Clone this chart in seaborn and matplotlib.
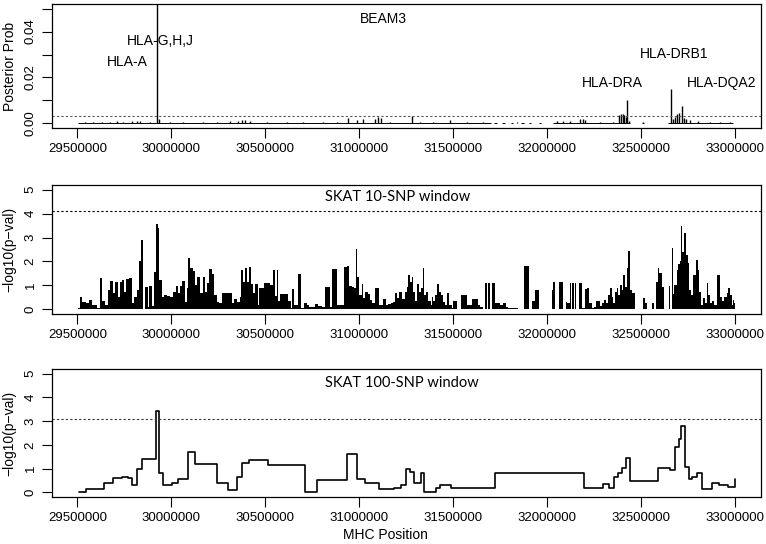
import seaborn as sns
import matplotlib
matplotlib.use('Agg')
import matplotlib.pyplot as plt

# ---- BEAM3 posterior probabilities (position, prob)
beam_pos = [29541000, 29585000, 29630000, 29674000, 29709000, 29745000, 29789000,
            29816000, 29834000, 29887000, 29925000, 29936000, 29993000, 30064000,
            30170000, 30241000, 30312000, 30357000, 30374000, 30392000, 30419000,
            30507000, 30614000, 30702000, 30809000, 30880000, 30942000, 30986000,
            31022000, 31084000, 31101000, 31114000, 31163000, 31278000, 31323000,
            31394000, 31482000, 31571000, 31660000, 31837000, 32050000, 32085000,
            32121000, 32174000, 32188000, 32200000, 32280000, 32351000, 32383000,
            32392000, 32401000, 32410000, 32419000, 32426000, 32436000, 32511000,
            32656000, 32670000, 32681000, 32692000, 32702000, 32715000, 32727000,
            32738000, 32759000, 32803000, 32865000, 32918000, 32972000]
beam_prob = [0.0008, 0.0006, 0.0008, 0.0007, 0.0009, 0.0008, 0.0010,
             0.0010, 0.0012, 0.0007, 0.0900, 0.0021, 0.0006, 0.0006,
             0.0007, 0.0007, 0.0009, 0.0012, 0.0016, 0.0014, 0.0010,
             0.0007, 0.0006, 0.0005, 0.0006, 0.0008, 0.0025, 0.0014,
             0.0018, 0.0021, 0.0028, 0.0022, 0.0008, 0.0031, 0.0008,
             0.0007, 0.0016, 0.0006, 0.0005, 0.0005, 0.0010, 0.0012,
             0.0012, 0.0018, 0.0019, 0.0015, 0.0006, 0.0008, 0.0038,
             0.0042, 0.0040, 0.0036, 0.0027, 0.0100, 0.0012, 0.0008,
             0.0150, 0.0020, 0.0030, 0.0040, 0.0045, 0.0075, 0.0022,
             0.0018, 0.0014, 0.0010, 0.0007, 0.0006, 0.0005]
# stretches of SNPs with near-zero posterior
beam_cover_start = [29505000, 31715000, 31760000, 31805000, 31860000, 31905000,
                    31955000, 32030000, 32505000, 32640000]
beam_cover_end = [31700000, 31730000, 31775000, 31820000, 31875000, 31915000,
                  31965000, 32440000, 32515000, 32990000]
beam_labels = ['BEAM3', 'HLA-G,H,J', 'HLA-A', 'HLA-DRA', 'HLA-DRB1', 'HLA-DQA2']
beam_label_pos = [31126000, 29940000, 29765000, 32344000, 32673000, 32928000]
beam_label_y = [0.0455, 0.0357, 0.0267, 0.0178, 0.0302, 0.0178]
beam_cut = 0.00325

# ---- SKAT 10-SNP window (window start, -log10 p)
skat10_start = [
    29505000, 29514000, 29525000, 29546000, 29560000, 29564000, 29578000, 29603000,
    29619000, 29633000, 29647000, 29661500, 29675700, 29688100, 29702300, 29716500,
    29727100, 29739500, 29750200, 29760800, 29776800, 29790900, 29801600, 29815800,
    29828200, 29838800, 29851200, 29861900, 29874300, 29879600, 29895600, 29908000,
    29918600, 29927500, 29934600, 29948700, 29961200, 29975300, 29993100, 30010800,
    30025000, 30037400, 30046300, 30058700, 30072900, 30081700, 30090600, 30099500,
    30113600, 30126000, 30138500, 30152600, 30166800, 30179200, 30191600, 30202300,
    30214700, 30227100, 30241300, 30255500, 30269700, 30308700, 30321100, 30333500,
    30347700, 30365400, 30370700, 30383100, 30392000, 30400900, 30413300, 30423900,
    30436300, 30445200, 30459400, 30466500, 30494800, 30525000, 30539200, 30551600,
    30560400, 30569300, 30578200, 30619000, 30636700, 30640200, 30654400, 30675700,
    30688100, 30707600, 30720000, 30732400, 30746600, 30764300, 30778500, 30803300,
    30817500, 30842300, 30856500, 30881300, 30918600, 30932800, 30945200, 30959400,
    30971800, 30982400, 30989500, 31000100, 31012500, 31021400, 31030300, 31044500,
    31056900, 31069300, 31083500, 31104700, 31127800, 31140200, 31154400, 31168600,
    31181000, 31189900, 31198700, 31211100, 31225300, 31243000, 31251900, 31260800,
    31269600, 31278500, 31287400, 31296200, 31308600, 31315700, 31326400, 31337000,
    31345900, 31354700, 31367100, 31379600, 31388400, 31393700, 31402600, 31415000,
    31425700, 31436300, 31446900, 31457600, 31464700, 31477100, 31491300, 31500100,
    31521400, 31539100, 31574600, 31597600, 31633100, 31642000, 31659700, 31668600,
    31679200, 31686300, 31696900, 31704000, 31721700, 31748300, 31766100, 31780300,
    31792700, 31845900, 31876000, 31900800, 31916800, 31934500, 31957600, 32023100,
    32032000, 32042700, 32064000, 32081700, 32097000, 32103000, 32120700, 32126000,
    32133100, 32140200, 32147300, 32154400, 32168500, 32186300, 32200500, 32209300,
    32221700, 32235900, 32250100, 32257200, 32280200, 32289100, 32303300, 32313900,
    32324600, 32333400, 32342300, 32351200, 32360000, 32368900, 32377800, 32386600,
    32395500, 32404400, 32413200, 32422100, 32431000, 32439800, 32448700, 32466400,
    32510700, 32519600, 32528500, 32558600, 32565700, 32576300, 32587000, 32595800,
    32608200, 32622400, 32647300, 32654300, 32661400, 32668500, 32675600, 32688000,
    32696900, 32705800, 32711100, 32718200, 32728800, 32737700, 32746500, 32755400,
    32764300, 32776700, 32789100, 32799700, 32808600, 32817500, 32829900, 32838700,
    32847600, 32856500, 32865300, 32877700, 32888400, 32900800, 32920300, 32927400,
    32941600, 32954000, 32962800, 32971700, 32980600, 32990000, 32995000, 32998000]
skat10_val = [
    0.05, 0.52, 0.31, 0.24, 0.05, 0.38, 0.17, 0.06,
    1.32, 0.34, 0.17, 0.80, 1.18, 0.66, 1.12, 0.52,
    1.12, 1.22, 0.73, 1.26, 1.32, 0.24, 0.52, 0.80,
    2.00, 2.90, 0.03, 0.94, 0.10, 0.98, 0.14, 1.57,
    3.56, 3.39, 1.22, 0.52, 0.59, 0.56, 0.52, 0.73,
    0.98, 0.66, 0.98, 1.18, 0.31, 0.87, 2.16, 1.74,
    1.60, 1.01, 1.36, 0.66, 1.36, 0.73, 1.08, 1.68,
    1.46, 0.59, 0.31, 0.24, 0.69, 0.66, 0.24, 0.42,
    0.31, 0.52, 1.64, 1.12, 1.74, 1.12, 1.78, 1.04,
    0.66, 1.04, 0.17, 0.90, 1.08, 1.01, 1.64, 0.56,
    1.64, 0.34, 0.63, 0.34, 0.05, 0.84, 0.17, 1.47,
    0.06, 0.27, 0.17, 0.08, 0.10, 0.20, 0.14, 0.08,
    0.94, 0.08, 1.68, 0.17, 1.75, 1.82, 0.98, 0.94,
    0.90, 2.52, 1.36, 0.59, 1.04, 0.45, 0.73, 0.62,
    0.38, 0.24, 0.87, 0.17, 0.42, 0.17, 0.20, 0.24,
    0.31, 0.66, 0.45, 0.70, 0.42, 0.73, 0.94, 1.43,
    1.12, 1.36, 0.73, 0.34, 1.04, 0.70, 0.87, 1.74,
    0.59, 0.73, 0.34, 0.17, 0.52, 0.34, 0.59, 1.04,
    0.73, 0.59, 0.31, 0.17, 0.66, 0.17, 0.06, 0.34,
    0.03, 0.59, 0.17, 0.42, 0.17, 0.10, 0.00, 1.08,
    0.02, 1.08, 0.02, 1.08, 0.24, 0.17, 0.24, 0.10,
    0.04, 0.00, 1.82, 0.00, 0.34, 0.80, 0.00, 0.80,
    1.12, 0.00, 1.12, 0.00, 0.31, 0.28, 1.08, 0.00,
    1.08, 0.00, 1.08, 0.00, 1.08, 0.06, 0.84, 0.87,
    0.24, 0.06, 0.10, 0.34, 0.14, 0.24, 0.38, 0.24,
    0.59, 0.90, 0.52, 0.24, 0.73, 0.87, 0.59, 1.01,
    0.80, 1.43, 0.94, 1.71, 2.44, 0.80, 0.66, 0.00,
    0.48, 0.28, 0.00, 0.28, 0.00, 1.12, 1.74, 1.50,
    0.94, 0.00, 0.98, 0.00, 2.55, 0.62, 1.01, 1.64,
    1.88, 2.00, 3.50, 2.41, 3.18, 2.27, 1.92, 0.80,
    0.59, 1.43, 2.06, 1.64, 0.73, 0.17, 0.45, 0.24,
    1.08, 0.59, 0.24, 0.34, 0.17, 1.43, 0.52, 0.34,
    0.52, 0.66, 0.87, 0.59, 0.17, 0.38, 0.24, 0.73]
skat10_end = 33001000
skat10_cut = 4.12

# ---- SKAT 100-SNP window (step function)
skat100_pos = [29510000, 29546000, 29644000, 29692000, 29736000, 29771000, 29789000,
               29816000, 29842000, 29918000, 29936000, 29957000, 30002000, 30037000,
               30090000, 30126000, 30188000, 30241000, 30303000, 30351000, 30374000,
               30415000, 30516000, 30711000, 30773000, 30933000, 30989000, 31030000,
               31105000, 31187000, 31223000, 31249000, 31267000, 31290000, 31329000,
               31346000, 31408000, 31431000, 31488000, 31721000, 32194000, 32295000,
               32327000, 32353000, 32376000, 32398000, 32419000, 32438000, 32587000,
               32654000, 32680000, 32698000, 32710000, 32733000, 32754000, 32772000,
               32795000, 32825000, 32875000, 32913000, 32963000, 33000000]
skat100_val = [0.0, 0.12, 0.4, 0.6, 0.65, 0.6, 0.3, 1.0, 1.42, 3.42, 0.8, 0.3, 0.4,
               0.55, 1.68, 1.18, 1.2, 0.38, 0.08, 0.63, 1.22, 1.37, 1.13, 0.0, 0.52,
               1.62, 0.58, 0.37, 0.12, 0.2, 0.3, 1.0, 0.86, 0.38, 0.8, 0.0, 0.17, 0.3,
               0.17, 0.8, 0.2, 0.33, 0.17, 0.63, 0.8, 1.04, 1.44, 0.47, 1.04, 0.93,
               1.93, 2.25, 2.8, 1.07, 0.58, 0.65, 0.83, 0.12, 0.38, 0.3, 0.24, 0.57]
skat100_cut = 3.08

xticks = [29500000, 30000000, 30500000, 31000000, 31500000, 32000000, 32500000, 33000000]

sns.set_style('ticks')
plt.rcParams['font.family'] = ['Liberation Sans', 'DejaVu Sans']
plt.rcParams['axes.edgecolor'] = 'black'
plt.rcParams['axes.linewidth'] = 0.9
plt.rcParams['text.color'] = 'black'
plt.rcParams['axes.labelcolor'] = 'black'
plt.rcParams['xtick.color'] = 'black'
plt.rcParams['ytick.color'] = 'black'

fig = plt.figure(figsize=(7.66, 5.44), dpi=100)
ax1 = fig.add_axes([0.0679, 0.7647, 0.9256, 0.228])
ax2 = fig.add_axes([0.0679, 0.4228, 0.9256, 0.2371])
ax3 = fig.add_axes([0.0679, 0.0864, 0.9256, 0.2353])

# panel 1
ax1.hlines([0] * len(beam_cover_start), beam_cover_start, beam_cover_end,
           color='black', lw=0.7)
ax1.vlines(beam_pos, 0, beam_prob, color='black', lw=1.0)
ax1.axhline(beam_cut, color='#555555', lw=0.8, ls=(0, (2, 2)))
for lab, xp, yp in zip(beam_labels, beam_label_pos, beam_label_y):
    ax1.text(xp, yp, lab, ha='center', va='center', fontsize=10)
ax1.set_ylim(-0.002, 0.052)
ax1.set_yticks([0, 0.01, 0.02, 0.03, 0.04, 0.05])
ax1.set_yticklabels(['0.00', '', '0.02', '', '0.04', ''])
ax1.set_ylabel('Posterior Prob', fontsize=10)

# panel 2
ax2.stairs(skat10_val, skat10_start + [skat10_end], fill=True, color='black', lw=0)
ax2.axhline(skat10_cut, color='black', lw=0.8, ls=(0, (2, 2)))
ax2.text(31206000, 4.7, 'SKAT 10-SNP window', ha='center', va='center',
         fontsize=10.5, family=['Lato', 'DejaVu Sans'])
ax2.set_ylim(-0.2, 5.2)
ax2.set_ylabel('\u2212log10(p\u2212val)', fontsize=10)

# panel 3
sns.lineplot(x=skat100_pos, y=skat100_val, drawstyle='steps-post', estimator=None,
             color='black', lw=1.2, ax=ax3)
ax3.axhline(skat100_cut, color='#333333', lw=0.8, ls=(0, (2, 2)))
ax3.text(31227000, 4.6, 'SKAT 100-SNP window', ha='center', va='center',
         fontsize=10.5, family=['Lato', 'DejaVu Sans'])
ax3.set_ylim(-0.2, 5.2)
ax3.set_ylabel('\u2212log10(p\u2212val)', fontsize=10)
ax3.set_xlabel('MHC Position', fontsize=10)

for ax in (ax2, ax3):
    ax.set_yticks([0, 1, 2, 3, 4, 5])
for ax in (ax1, ax2, ax3):
    ax.set_xlim(29365000, 33137000)
    ax.set_xticks(xticks)
    ax.set_xticklabels([str(t) for t in xticks])
    ax.tick_params(axis='both', direction='out', length=7, width=0.8,
                   labelsize=9.5, pad=4)
    ax.tick_params(axis='y', labelrotation=90)
    for lab in ax.get_yticklabels():
        lab.set_va('center')
    ax.yaxis.set_label_coords(-0.05, 0.5)
    ax.grid(False)
    for sp in ax.spines.values():
        sp.set_visible(True)

ax3.xaxis.set_label_coords(0.47, -0.245)

fig.savefig('out.png', dpi=100)
